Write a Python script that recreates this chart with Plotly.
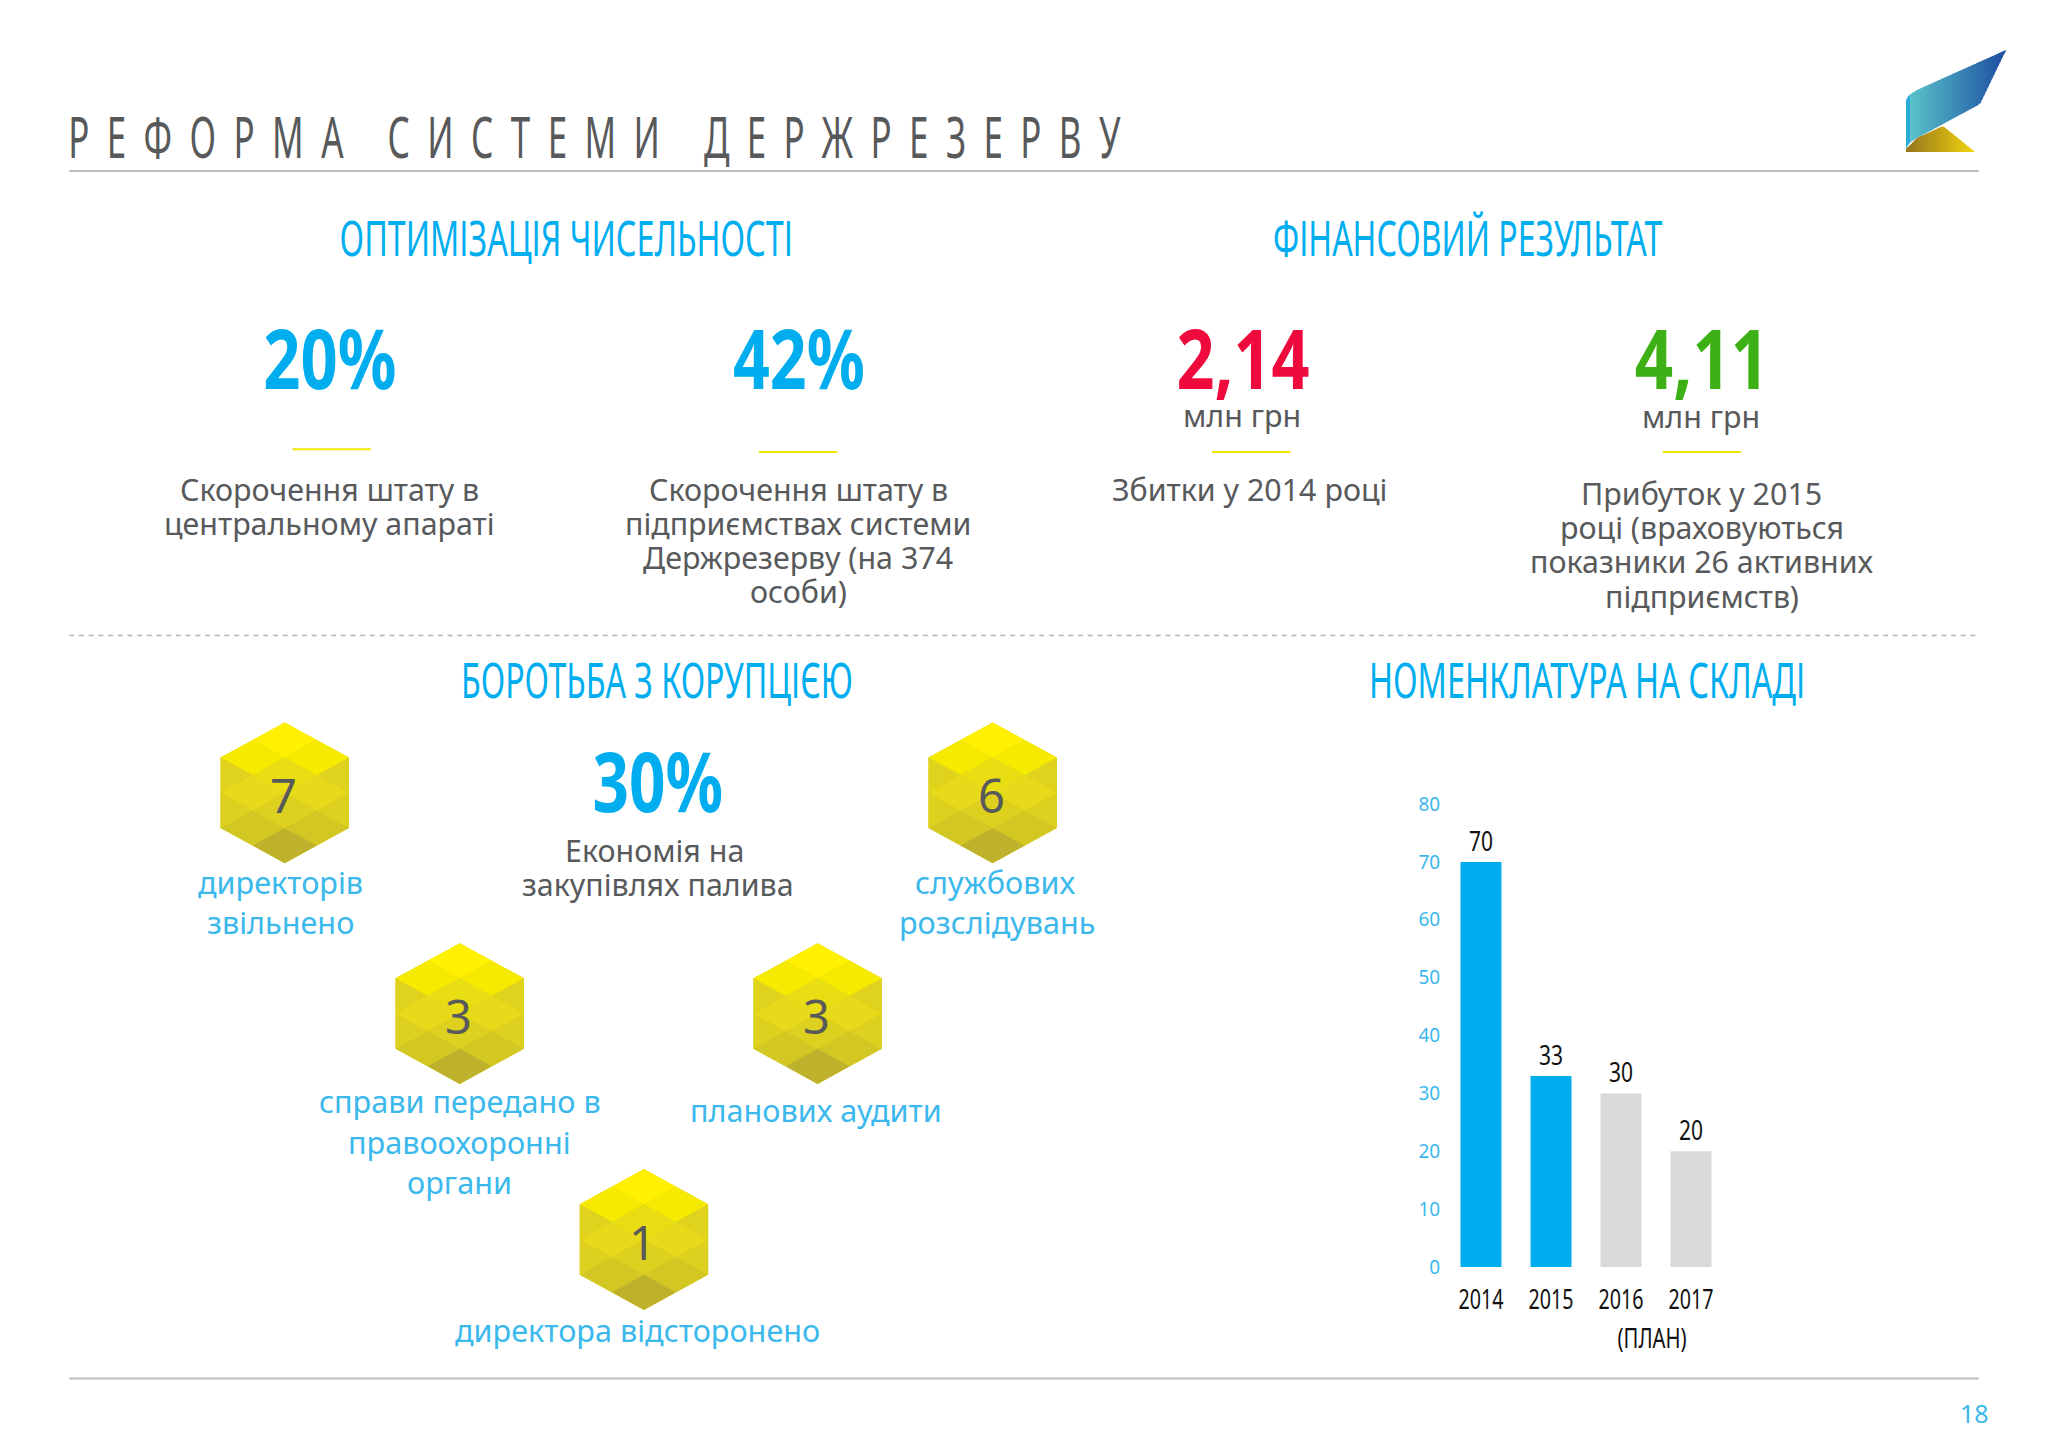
import json
import numpy as np
import plotly.graph_objects as go

# ---------- data ----------
years = ["2014", "2015", "2016", "2017"]
stock = [70, 33, 30, 20]
bar_colors = ["#00AEEF", "#00AEEF", "#D9D9D9", "#D9D9D9"]
y_ticks = [0, 10, 20, 30, 40, 50, 60, 70, 80]

title = "РЕФОРМА СИСТЕМИ ДЕРЖРЕЗЕРВУ"
headers = ["ОПТИМІЗАЦІЯ ЧИСЕЛЬНОСТІ", "ФІНАНСОВИЙ РЕЗУЛЬТАТ", "БОРОТЬБА З КОРУПЦІЄЮ", "НОМЕНКЛАТУРА НА СКЛАДІ"]
kpis = ["20%", "42%", "2,14", "4,11", "30%"]
hex_counts = ["7", "6", "3", "3", "1"]

W, H = 2048, 1448
S = W / 1568          # layout below is measured on a 1568-wide view of the page
BODY = "Noto Sans"
CYAN, SKY, DARK = "#00AEEF", "#3BB8EC", "#58595B"

def px(x): return x * S / W
def py(y): return 1 - y * S / H

annotations, shapes, squeeze = [], [], {}

def text(x, y, s, size, color, bold=False, fit=None):
    label = f"<b>{s}</b>" if bold else s
    annotations.append(dict(x=px(x), y=py(y), xref="paper", yref="paper", text=label,
                            showarrow=False, xanchor="center", yanchor="middle",
                            font=dict(family=BODY, size=size, color=color)))
    if fit:
        squeeze[label] = fit * S

def rule(x0, x1, y, color, width, dash="solid"):
    shapes.append(dict(type="line", xref="paper", yref="paper", x0=px(x0), x1=px(x1), y0=py(y), y1=py(y),
                       line=dict(color=color, width=width, dash=dash)))

def poly(points, color):
    d = "M" + " L".join(f"{x/W:.5f},{1-y/H:.5f}" for x, y in points) + " Z"
    shapes.append(dict(type="path", xref="paper", yref="paper", path=d, fillcolor=color, line=dict(width=0), layer="below"))

# ---------- rules ----------
rule(53, 1515, 131, "#BDBDBD", 2)
rule(53, 1515, 486.5, "#B5B5B5", 1.6, "5px,4.7px")
rule(53, 1515, 1055.5, "#BDBDBD", 2)
for a, b, yy in [(224, 284, 344), (581, 641, 346), (928, 988, 346), (1273, 1333, 346)]:
    rule(a, b, yy, "#F2E600", 2)

# ---------- title and headers ----------
text(462, 104, title, 57, DARK, fit=819)
text(433, 181.5, headers[0], 50, CYAN, fit=347)
text(1124, 181.5, headers[1], 50, CYAN, fit=298)
text(503, 519.5, headers[2], 50, CYAN, fit=300)
text(1215, 519.5, headers[3], 50, CYAN, fit=334)

# ---------- KPI numbers ----------
text(253, 273, kpis[0], 82, CYAN, True, fit=102)
text(611.5, 273, kpis[1], 82, CYAN, True, fit=101)
text(952, 273, kpis[2], 82, "#EE0A3C", True, fit=102)
text(1303, 273, kpis[3], 82, "#3CB014", True, fit=103)
text(503.5, 597, kpis[4], 82, CYAN, True, fit=100)

# ---------- body copy ----------
for x, y, s in [(951, 318, "млн грн"), (1302, 319, "млн грн"),
                (252, 375, "Скорочення штату в"), (252, 401, "центральному апараті"),
                (611, 375, "Скорочення штату в"), (611, 401, "підприємствах системи"),
                (611, 427, "Держрезерву (на 374"), (611, 453, "особи)"),
                (957, 375, "Збитки у 2014 році"),
                (1303, 378, "Прибуток у 2015"), (1303, 404, "році (враховуються"),
                (1303, 430, "показники 26 активних"), (1303, 457, "підприємств)"),
                (501, 651, "Економія на"), (504, 677, "закупівлях палива")]:
    text(x, y, s, 30.4, DARK)

for x, y, s in [(215, 675, "директорів"), (215, 706, "звільнено"),
                (762, 675, "службових"), (764, 706, "розслідувань"),
                (352, 843, "справи передано в"), (352, 874, "правоохоронні"), (352, 905, "органи"),
                (625, 850, "планових аудити"), (488, 1018, "директора відсторонено")]:
    text(x, y, s, 30.6, SKY)

text(1512, 1082, "18", 25, SKY)
text(1265, 1024, "(ПЛАН)", 27, "#111111", fit=53)

# ---------- hexagons ----------
tiles = [((0, -3), "#FFF100"), ((-1, -2), "#F6EA00"), ((1, -2), "#F6EA00"), ((0, -1), "#E9DD14"),
         ((-1, 0), "#E7DA1A"), ((1, 0), "#E7DA1A"), ((0, 1), "#DDD01E"),
         ((-1, 2), "#D3C724"), ((1, 2), "#D3C724"), ((0, 3), "#BEB22C")]
tris = [((-2, -2), (-1, -1), (-2, 0), "#E0D31E"), ((2, -2), (1, -1), (2, 0), "#E0D31E"),
        ((-2, 0), (-1, 1), (-2, 2), "#DDD01E"), ((2, 0), (1, 1), (2, 2), "#DDD01E")]

def hexagon(cx, cy, label):
    cx, cy = cx * S, cy * S
    ux, uy = 32.1, 17.6
    P = lambda i, j: (cx + i * ux, cy + j * uy)
    poly([P(0, -4), P(2, -2), P(2, 2), P(0, 4), P(-2, 2), P(-2, -2)], "#DDD01E")
    for (i, j), c in tiles:
        poly([P(i, j - 1), P(i + 1, j), P(i, j + 1), P(i - 1, j)], c)
    for a, b, d, c in tris:
        poly([P(*a), P(*b), P(*d)], c)
    text(cx / S - 1, cy / S + 2, label, 47, DARK)

for (cx, cy), n in zip([(218, 607), (760, 607), (352, 776), (626, 776), (493, 949)], hex_counts):
    hexagon(cx, cy, n)

# ---------- logo ----------
def lerp(c0, c1, t):
    return "rgb(%d,%d,%d)" % tuple(a + (b - a) * t for a, b in zip(c0, c1))

top = lambda v: np.interp(v, [1906, 1909, 1917, 2006], [100, 95, 90, 50])
bot = lambda v: np.interp(v, [1906, 1909, 1917, 1980, 2006], [149, 143, 138, 104, 50])
for x in np.arange(1906, 2006, 2.0):
    xm = x + 2.6
    c = "rgb(41,171,216)" if x < 1909 else lerp((92, 198, 204), (28, 76, 160), (x - 1906) / 100)
    poly([(x, top(x)), (xm, top(xm)), (xm, bot(xm)), (x, bot(x))], c)
up = lambda v: np.interp(v, [1906, 1917, 1943, 1975], [149, 138, 126, 152])
for x in np.arange(1906, 1975, 2.0):
    xm = min(x + 2.6, 1975)
    poly([(x, up(x)), (xm, up(xm)), (xm, 152), (x, 152)], lerp((150, 118, 30), (245, 216, 15), (x - 1906) / 69))

# ---------- bar chart ----------
fig = go.Figure(go.Bar(x=years, y=stock, marker=dict(color=bar_colors, line=dict(width=0)),
                       text=[str(v) for v in stock], textposition="outside", cliponaxis=False,
                       textfont=dict(family=BODY, size=27, color="#111111")))
fig.update_layout(
    width=W, height=H, margin=dict(l=0, r=0, t=0, b=0), paper_bgcolor="white", plot_bgcolor="white",
    showlegend=False, bargap=0.415, annotations=annotations, shapes=shapes,
    xaxis=dict(domain=[1446 / W, 1726 / W], type="category", showgrid=False, zeroline=False, showline=False,
               automargin=False, ticks="outside", ticklen=9, tickcolor="rgba(0,0,0,0)",
               tickfont=dict(family=BODY, size=27, color="#111111")),
    yaxis=dict(domain=[1 - 1267 / H, 1 - 804 / H], range=[0, 80], tickvals=y_ticks, showgrid=False, zeroline=False,
               automargin=False, showline=False, ticks="outside", ticklen=1, tickcolor="rgba(0,0,0,0)",
               tickfont=dict(family=BODY, size=19, color=SKY)),
)

# page without its default margin; condensed headings, wide-set title and chart labels fitted to measured widths
post = """
document.body.style.margin = '0';
var fit = %s;
var wide = %s;
document.querySelectorAll('text.annotation-text').forEach(function (t) {
  var k = t.getAttribute('data-unformatted'), f = fit[k];
  if (!f) return;
  if (k === wide) t.style.letterSpacing = '0.5em';
  t.setAttribute('textLength', f);
  t.setAttribute('lengthAdjust', 'spacingAndGlyphs');
});
document.querySelectorAll('.xtick text').forEach(function (t) {
  t.setAttribute('textLength', 45); t.setAttribute('lengthAdjust', 'spacingAndGlyphs');
});
document.querySelectorAll('.bartext, .textpoint text').forEach(function (t) {
  t.setAttribute('textLength', 24); t.setAttribute('lengthAdjust', 'spacingAndGlyphs');
});
""" % (json.dumps(squeeze, ensure_ascii=False), json.dumps(title, ensure_ascii=False))
fig.write_html("out.html", post_script=post, config={"displayModeBar": False})
